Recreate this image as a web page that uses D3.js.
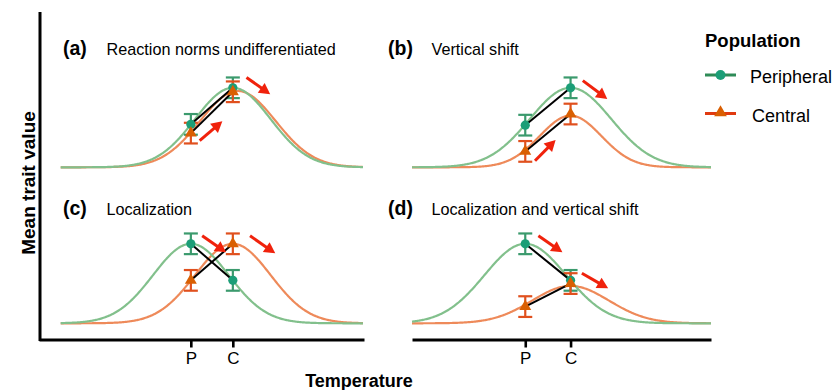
<!DOCTYPE html>
<html>
<head>
<meta charset="utf-8">
<script src="https://cdn.jsdelivr.net/npm/d3@7"></script>
<style>
  body { margin: 0; background: #fff; }
  text { font-family: "Liberation Sans", Arial, Helvetica, sans-serif; }
</style>
</head>
<body>
<div id="chart"></div>
<script>
// panels
const panelIds = ["(a)", "(b)", "(c)", "(d)"];
const panelTitles = ["Reaction norms undifferentiated", "Vertical shift", "Localization", "Localization and vertical shift"];

// sampling sites on the temperature axis
const siteLabels = ["P", "C"];
const siteTemps = [-0.5, 0.5];

// reaction norm curves (optimum, breadth, height) per panel
const periOptimum = [0.5, 0.5, -0.5, -0.5];
const periBreadth = [0.9, 0.9, 0.9, 0.9];
const periHeight = [1.0, 1.0, 1.0, 1.0];
const centOptimum = [0.62, 0.5, 0.5, 0.5];
const centBreadth = [0.9, 0.68, 0.9, 0.85];
const centHeight = [0.96, 0.65, 1.0, 0.47];

// mean trait value at P and C per panel
const periMeans = [[0.54, 1.0], [0.53, 1.0], [1.0, 0.54], [1.0, 0.54]];
const centMeans = [[0.43, 0.95], [0.2, 0.67], [0.54, 1.0], [0.21, 0.5]];
const errHalf = 0.13;

// red arrows per panel: [t1, v1, t2, v2]
const arrows = [
  [[-0.29, 0.335, 0.25, 0.58], [0.825, 1.13, 1.39, 0.92]],
  [[-0.285, 0.083, 0.17, 0.343], [0.77, 1.09, 1.31, 0.86]],
  [[-0.23, 1.10, 0.34, 0.893], [0.91, 1.10, 1.51, 0.88]],
  [[-0.21, 1.10, 0.32, 0.893], [0.75, 0.629, 1.33, 0.44]]
];

// temperature span of the drawn curves, per column
const curveSpan = [[-3.6, 3.6], [-3.0, 3.6]];

const width = 835, height = 390;
const colCurve = ["#82c08c", "#ee8a5a"];
const colErr = ["#3b9a6d", "#e0501e"];
const colPoint = ["#1b9e77", "#d95f02"];
const colArrow = "#f0220c";

const svg = d3.select("#chart").append("svg")
  .attr("width", width).attr("height", height);

const xScales = [
  d3.scaleLinear().domain(curveSpan[0]).range([60.7, 363]),
  d3.scaleLinear().domain(curveSpan[1]).range([412, 711])
];
const yScales = [
  d3.scaleLinear().domain([0, 1]).range([167.3, 87.8]),
  d3.scaleLinear().domain([0, 1]).range([323.3, 243.8])
];

const gauss = (t, mu, sd, h) => h * Math.exp(-((t - mu) ** 2) / (2 * sd * sd));

panelIds.forEach((id, i) => {
  const col = i % 2, row = Math.floor(i / 2);
  const x = xScales[col], y = yScales[row];
  const g = svg.append("g");

  // curves
  const ts = d3.range(curveSpan[col][0], curveSpan[col][1] + 0.001, 0.02);
  const line = d3.line().x(d => x(d[0])).y(d => y(d[1]));
  const curves = [
    ts.map(t => [t, gauss(t, periOptimum[i], periBreadth[i], periHeight[i])]),
    ts.map(t => [t, gauss(t, centOptimum[i], centBreadth[i], centHeight[i])])
  ];
  [1, 0].forEach(k => {
    g.append("path").datum(curves[k])
      .attr("d", line)
      .attr("fill", "none")
      .attr("stroke", colCurve[k])
      .attr("stroke-width", 2.2);
  });

  const means = [periMeans[i], centMeans[i]];

  // error bars
  means.forEach((m, k) => {
    m.forEach((v, s) => {
      const cx = x(siteTemps[s]);
      const eb = g.append("g").attr("stroke", colErr[k]).attr("stroke-width", 2.2);
      eb.append("line").attr("x1", cx).attr("x2", cx)
        .attr("y1", y(v - errHalf)).attr("y2", y(v + errHalf));
      [v - errHalf, v + errHalf].forEach(e => {
        eb.append("line").attr("x1", cx - 7).attr("x2", cx + 7)
          .attr("y1", y(e)).attr("y2", y(e));
      });
    });
  });

  // connectors
  means.forEach(m => {
    g.append("line")
      .attr("x1", x(siteTemps[0])).attr("y1", y(m[0]))
      .attr("x2", x(siteTemps[1])).attr("y2", y(m[1]))
      .attr("stroke", "black").attr("stroke-width", 2);
  });

  // points
  periMeans[i].forEach((v, s) => {
    g.append("circle").attr("cx", x(siteTemps[s])).attr("cy", y(v))
      .attr("r", 4.6).attr("fill", colPoint[0]);
  });
  centMeans[i].forEach((v, s) => {
    g.append("path")
      .attr("d", d3.symbol(d3.symbolTriangle, 62)())
      .attr("transform", "translate(" + x(siteTemps[s]) + "," + y(v) + ")")
      .attr("fill", colPoint[1]);
  });

  // arrows
  arrows[i].forEach(a => {
    const x1 = x(a[0]), y1 = y(a[1]), x2 = x(a[2]), y2 = y(a[3]);
    const len = Math.hypot(x2 - x1, y2 - y1);
    const ux = (x2 - x1) / len, uy = (y2 - y1) / len;
    const hl = 11, hw = 6;
    const bx = x2 - ux * hl, by = y2 - uy * hl;
    g.append("line")
      .attr("x1", x1).attr("y1", y1)
      .attr("x2", bx + ux * 2).attr("y2", by + uy * 2)
      .attr("stroke", colArrow).attr("stroke-width", 3);
    g.append("path")
      .attr("d", "M" + x2 + "," + y2 +
        "L" + (bx - uy * hw) + "," + (by + ux * hw) +
        "L" + (bx + uy * hw) + "," + (by - ux * hw) + "Z")
      .attr("fill", colArrow);
  });

  // titles
  const tx = col === 0 ? 63 : 388;
  const ty = row === 0 ? 55 : 215;
  g.append("text").attr("x", tx).attr("y", ty)
    .attr("font-size", 19.5).attr("font-weight", "bold").text(id);
  g.append("text").attr("x", tx + 43.5).attr("y", ty)
    .attr("font-size", 16.2).text(panelTitles[i]);
});

// axes
const axisScales = [
  d3.scaleLinear().domain([curveSpan[0][0] - 21.7 / 42.1, curveSpan[0][1] + 1 / 42.1]).range([39, 364]),
  xScales[1]
];
axisScales.forEach(sc => {
  const ax = svg.append("g").attr("transform", "translate(0,339.5)")
    .call(d3.axisBottom(sc).tickValues(siteTemps).tickFormat((d, j) => siteLabels[j])
      .tickSize(8).tickSizeOuter(0).tickPadding(4));
  ax.select(".domain").attr("stroke", "black").attr("stroke-width", 3);
  ax.selectAll(".tick line").attr("stroke", "black").attr("stroke-width", 2.6);
  ax.selectAll(".tick text").attr("font-size", 17).attr("fill", "black")
    .style("font-family", "'Liberation Sans', Arial, sans-serif");
});

svg.append("line").attr("x1", 40).attr("x2", 40).attr("y1", 12).attr("y2", 341)
  .attr("stroke", "black").attr("stroke-width", 3);

svg.append("text").attr("transform", "translate(35,183) rotate(-90)")
  .attr("text-anchor", "middle").attr("font-size", 19).attr("font-weight", "bold")
  .text("Mean trait value");
svg.append("text").attr("x", 359).attr("y", 387)
  .attr("text-anchor", "middle").attr("font-size", 18).attr("font-weight", "bold")
  .text("Temperature");

// legend
const legend = svg.append("g");
legend.append("text").attr("x", 705).attr("y", 47)
  .attr("font-size", 18.5).attr("font-weight", "bold").text("Population");
const legendLabels = ["Peripheral", "Central"];
const legendLine = ["#2e8b57", "#e03a10"];
const legendY = [75, 113.5];
legendLabels.forEach((lab, k) => {
  legend.append("line").attr("x1", 705).attr("x2", 736)
    .attr("y1", legendY[k]).attr("y2", legendY[k])
    .attr("stroke", legendLine[k]).attr("stroke-width", 3);
  if (k === 0) {
    legend.append("circle").attr("cx", 720.5).attr("cy", legendY[k]).attr("r", 5).attr("fill", colPoint[0]);
  } else {
    legend.append("path").attr("d", d3.symbol(d3.symbolTriangle, 70)())
      .attr("transform", "translate(720.5," + (legendY[k] - 1) + ")").attr("fill", colPoint[1]);
  }
  legend.append("text").attr("x", k === 0 ? 750 : 752).attr("y", legendY[k] + 8)
    .attr("font-size", 18).text(lab);
});
</script>
</body>
</html>
